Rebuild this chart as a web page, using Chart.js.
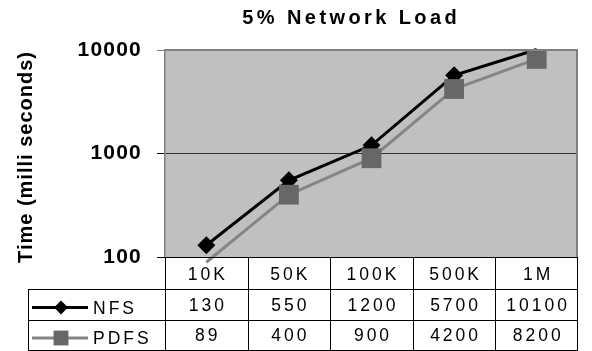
<!DOCTYPE html>
<html>
<head>
<meta charset="utf-8">
<script src="https://cdn.jsdelivr.net/npm/chart.js@4/dist/chart.umd.min.js"></script>
<style>
  html, body { margin: 0; padding: 0; background: #fff; }
  #wrap { width: 592px; height: 351px; }
</style>
</head>
<body>
<div id="wrap"><canvas id="chart" width="592" height="351"></canvas></div>
<script>
// ---- data ----
const chartTitle = '5% Network Load';
const yAxisTitle = 'Time (milli seconds)';
const categories = ['10K', '50K', '100K', '500K', '1M'];
const seriesNames = ['NFS', 'PDFS'];
const nfsTimes = [130, 550, 1200, 5700, 10100];
const pdfsTimes = [89, 400, 900, 4200, 8200];
const yTicks = [100, 1000, 10000];

// ---- styling ----
const FONT = '"Liberation Sans", Arial, Helvetica, sans-serif';
const NFS_COLOR = '#000000';
const PDFS_LINE = '#858585';
const PDFS_MARK = '#676767';
const PLOT_BG = '#c0c0c0';

const yMin = yTicks[0];
const yMax = yTicks[yTicks.length - 1];
const inRange = v => v >= yMin && v <= yMax;

// text with tracking; 'center' ignores the trailing gap after the last glyph
function spacedText(ctx, text, x, y, font, spacing, align, rotate) {
  ctx.save();
  ctx.font = font;
  ctx.letterSpacing = spacing + 'px';
  ctx.textBaseline = 'alphabetic';
  ctx.textAlign = 'left';
  ctx.fillStyle = '#000';
  ctx.translate(x, y);
  if (rotate) ctx.rotate(-Math.PI / 2);
  let dx = 0;
  if (align === 'center') dx = -(ctx.measureText(text).width - spacing) / 2;
  ctx.fillText(text, dx, 0);
  ctx.restore();
}

// plot background, frame, titles and the data table under the axis
const frameAndTable = {
  id: 'frameAndTable',
  beforeDraw(chart) {
    const { ctx, chartArea: a } = chart;
    ctx.save();
    ctx.fillStyle = '#fff';
    ctx.fillRect(0, 0, chart.width, chart.height);
    ctx.fillStyle = PLOT_BG;
    ctx.fillRect(a.left, a.top, a.right - a.left, a.bottom - a.top);
    ctx.restore();
    // tick lettering is drawn with a little tracking
    ctx.letterSpacing = '1.2px';
  },
  beforeDatasetsDraw(chart) {
    chart.ctx.letterSpacing = '0px';
  },
  afterDraw(chart) {
    const { ctx, chartArea: a } = chart;
    const xs = chart.scales.x;
    const colW = (a.right - a.left) / categories.length;

    // plot frame (top and right edges)
    ctx.save();
    ctx.strokeStyle = '#808080';
    ctx.lineWidth = 2;
    ctx.beginPath();
    ctx.moveTo(a.left, a.top);
    ctx.lineTo(a.right - 1, a.top);
    ctx.lineTo(a.right - 1, a.bottom);
    ctx.stroke();
    ctx.restore();

    // titles
    spacedText(ctx, chartTitle, 349.5, 24, 'bold 20px ' + FONT, 3.4, 'center');
    spacedText(ctx, yAxisTitle, 32, 157.5, 'bold 20px ' + FONT, 1, 'center', true);

    // data table
    const rowTops = [a.bottom, a.bottom + 32, a.bottom + 63, a.bottom + 93];
    const legendLeft = 28;
    ctx.save();
    ctx.strokeStyle = '#000';
    ctx.lineWidth = 1;
    ctx.beginPath();
    // horizontal rules
    ctx.moveTo(a.left - 8, rowTops[0] + 0.5); ctx.lineTo(a.right, rowTops[0] + 0.5);
    for (let r = 1; r < rowTops.length; r++) {
      ctx.moveTo(legendLeft, rowTops[r] + 0.5); ctx.lineTo(a.right, rowTops[r] + 0.5);
    }
    // vertical rules
    ctx.moveTo(legendLeft + 0.5, rowTops[1]); ctx.lineTo(legendLeft + 0.5, rowTops[3] + 1);
    for (let i = 0; i <= categories.length; i++) {
      const x = Math.round(a.left + i * colW) + (i === categories.length ? -0.5 : 0.5);
      ctx.moveTo(x, rowTops[0]); ctx.lineTo(x, rowTops[3] + 1);
    }
    ctx.stroke();
    ctx.restore();

    const cellFont = '17.5px ' + FONT;
    const rows = [categories, nfsTimes, pdfsTimes];
    const baselines = [rowTops[0] + 22.5, rowTops[1] + 21.5, rowTops[2] + 21];
    rows.forEach((row, r) => {
      row.forEach((v, i) => {
        spacedText(ctx, String(v), xs.getPixelForValue(i), baselines[r], cellFont, 3, 'center');
      });
    });

    // legend keys in the first column
    const keys = [
      { y: rowTops[1] + 18.5, line: NFS_COLOR, mark: NFS_COLOR, style: 'rectRot', radius: 7 },
      { y: rowTops[2] + 18, line: PDFS_LINE, mark: PDFS_MARK, style: 'rect', radius: 10.5 }
    ];
    keys.forEach((k, r) => {
      ctx.save();
      ctx.strokeStyle = k.line;
      ctx.lineWidth = 3;
      ctx.beginPath();
      ctx.moveTo(32, k.y); ctx.lineTo(88, k.y);
      ctx.stroke();
      ctx.fillStyle = k.mark;
      Chart.helpers.drawPoint(ctx, { pointStyle: k.style, radius: k.radius, rotation: 0, borderWidth: 0 }, 61, k.y);
      ctx.restore();
      spacedText(ctx, seriesNames[r], 93, k.y + 6, cellFont, 3, 'left');
    });
  }
};

new Chart(document.getElementById('chart'), {
  type: 'line',
  data: {
    labels: categories,
    datasets: [
      {
        label: seriesNames[0],
        data: nfsTimes,
        order: 1,
        borderColor: NFS_COLOR,
        borderWidth: 3,
        backgroundColor: NFS_COLOR,
        pointStyle: 'rectRot',
        pointRadius: c => inRange(c.raw) ? 9 : 0,
        pointBackgroundColor: NFS_COLOR,
        pointBorderWidth: 0,
        tension: 0,
        clip: false
      },
      {
        label: seriesNames[1],
        data: pdfsTimes,
        order: 0,
        borderColor: PDFS_LINE,
        borderWidth: 3,
        backgroundColor: PDFS_MARK,
        pointStyle: 'rect',
        pointRadius: c => inRange(c.raw) ? 14 : 0,
        pointBackgroundColor: PDFS_MARK,
        pointBorderWidth: 0,
        tension: 0,
        clip: false
      }
    ]
  },
  options: {
    responsive: false,
    animation: false,
    devicePixelRatio: 1,
    layout: { padding: { top: 50, right: 2, bottom: 94, left: 0 } },
    plugins: {
      legend: { display: false },
      title: { display: false },
      tooltip: { enabled: false }
    },
    events: [],
    scales: {
      x: { type: 'category', offset: true, display: false },
      y: {
        type: 'logarithmic',
        min: yMin,
        max: yMax,
        afterBuildTicks: s => { s.ticks = yTicks.map(v => ({ value: v })); },
        afterFit: s => { s.width = 165; },
        ticks: {
          callback: v => String(v),
          color: '#000',
          padding: 15,
          font: { family: FONT, size: 21, weight: 'bold' }
        },
        grid: {
          drawOnChartArea: true,
          tickLength: 8,
          color: c => c.tick && c.tick.value === yMax ? '#808080' : '#333',
          tickColor: c => c.tick && c.tick.value === yMax ? '#808080' : '#000',
          lineWidth: 1
        },
        border: { display: true, color: '#808080', width: 1.5 },
        title: { display: false }
      }
    }
  },
  plugins: [frameAndTable]
});
</script>
</body>
</html>
